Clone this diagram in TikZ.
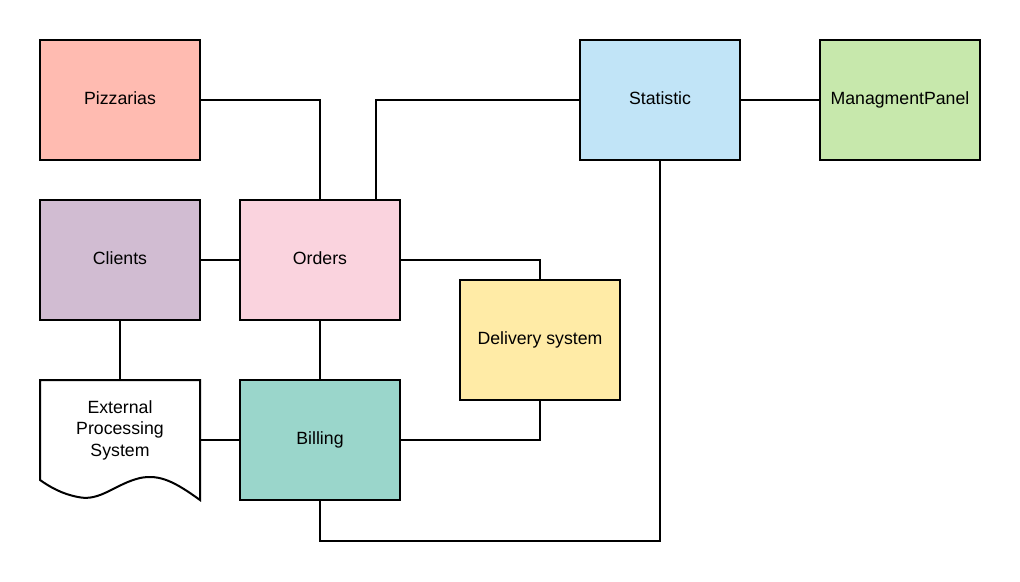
\documentclass[tikz,border=0pt]{standalone}
\usepackage{fontspec}
\setmainfont{Liberation Sans}
\definecolor{cpizza}{HTML}{FFBBB1}
\definecolor{cclient}{HTML}{D1BCD2}
\definecolor{corder}{HTML}{FAD3DE}
\definecolor{cbill}{HTML}{9AD6CB}
\definecolor{cdeliv}{HTML}{FFEBA6}
\definecolor{cstat}{HTML}{C1E4F7}
\definecolor{cmgmt}{HTML}{C7E8AC}
\tikzset{
  lbl/.style={font=\fontsize{17.7}{21.5}\selectfont},
  box/.style={lbl, draw=black, line width=2pt, outer sep=0pt, minimum width=160pt, minimum height=120pt, inner sep=0pt, anchor=north west, text height=10pt, text depth=1.6pt},
  wire/.style={draw=black, line width=2pt}
}
\begin{document}
\begin{tikzpicture}[x=1pt,y=-1pt]
\useasboundingbox (0,0) rectangle (1020,581);
\node[box, fill=cpizza] (piz) at (40,40) {Pizzarias};
\node[box, fill=cclient] (cli) at (40,200) {Clients};
\node[box, fill=corder] (ord) at (240,200) {Orders};
\node[box, fill=cbill] (bil) at (240,380) {Billing};
\node[box, fill=cdeliv] (del) at (460,280) {Delivery system};
\node[box, fill=cstat] (sta) at (580,40) {Statistic};
\node[box, fill=cmgmt] (mgm) at (820,40) {ManagmentPanel};
% document shape
\draw[line width=2pt, fill=white] (40,380) -- (200,380) -- (200,500)
  .. controls (175,482) and (160,474) .. (140,478)
  .. controls (115,484) and (100,502) .. (78,497)
  .. controls (62,494) and (50,487) .. (40,480) -- cycle;
\node[lbl, align=center, inner sep=0pt] (ext) at (120,430) {External\\Processing\\System};
\coordinate (extR) at (200,440);
\coordinate (extT) at (120,380);
% connectors
\draw[wire] (piz.east) -| (ord.north);
\draw[wire] (sta.west) -| ([xshift=-24pt]ord.north east);
\draw[wire] (sta.east) -- (mgm.west);
\draw[wire] (cli.east) -- (ord.west);
\draw[wire] (ord.east) -| (del.north);
\draw[wire] (cli.south) -- (extT);
\draw[wire] (ord.south) -- (bil.north);
\draw[wire] (extR) -- (bil.west);
\draw[wire] (bil.east) -| (del.south);
\draw[wire] (bil.south) |- (500,541) -| (sta.south);
\end{tikzpicture}
\end{document}
